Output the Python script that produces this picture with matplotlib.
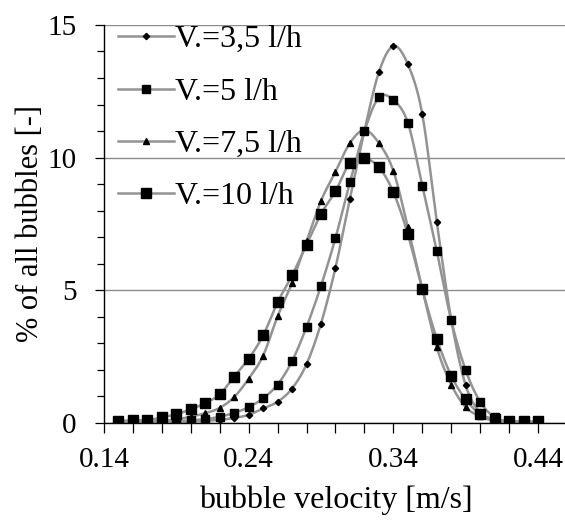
import numpy as np
import matplotlib
matplotlib.use("Agg")
import matplotlib.pyplot as plt
from matplotlib.ticker import MultipleLocator, FixedLocator

plt.rcParams['font.family'] = ['Liberation Serif', 'DejaVu Serif']

# bubble velocity classes [m/s]
velocity = [0.15, 0.16, 0.17, 0.18, 0.19, 0.20, 0.21, 0.22, 0.23, 0.24,
            0.25, 0.26, 0.27, 0.28, 0.29, 0.30, 0.31, 0.32, 0.33, 0.34,
            0.35, 0.36, 0.37, 0.38, 0.39, 0.40, 0.41, 0.42, 0.43, 0.44]

# share of all bubbles [%] for each gas flow rate
share_3_5 = [0.01, 0.01, 0.02, 0.02, 0.03, 0.05, 0.08, 0.12, 0.19, 0.31,
             0.55, 0.80, 1.30, 2.22, 3.75, 5.85, 8.46, 11.00, 13.22, 14.20,
             13.52, 11.64, 7.58, 3.90, 1.42, 0.40, 0.10, 0.03, 0.01, 0.01]
share_5 = [0.01, 0.02, 0.03, 0.04, 0.06, 0.10, 0.14, 0.24, 0.38, 0.60,
           0.93, 1.45, 2.33, 3.62, 5.17, 6.97, 9.07, 11.00, 12.27, 12.17,
           11.32, 8.95, 6.48, 3.87, 1.99, 0.80, 0.22, 0.05, 0.02, 0.01]
share_7_5 = [0.02, 0.03, 0.05, 0.08, 0.13, 0.24, 0.37, 0.57, 0.98, 1.67,
             2.54, 4.02, 5.28, 6.85, 8.37, 9.47, 10.55, 11.04, 10.55, 9.50,
             7.38, 5.05, 2.85, 1.45, 0.60, 0.25, 0.08, 0.03, 0.02, 0.01]
share_10 = [0.07, 0.11, 0.11, 0.21, 0.33, 0.52, 0.75, 1.08, 1.75, 2.42,
            3.30, 4.55, 5.56, 6.72, 7.88, 8.73, 9.80, 9.97, 9.64, 8.70,
            7.12, 5.04, 3.18, 1.78, 0.89, 0.34, 0.15, 0.08, 0.07, 0.06]

labels = ["V.=3,5 l/h", "V.=5 l/h", "V.=7,5 l/h", "V.=10 l/h"]

x_ticks = [0.14, 0.24, 0.34, 0.44]
y_ticks = [0, 5, 10, 15]


def smooth(x, y, n=24):
    """Cubic Bezier smoothing through every point (Catmull-Rom style)."""
    p = np.column_stack([x, y]).astype(float)
    ext = np.vstack([p[0], p, p[-1]])
    t = np.linspace(0, 1, n, endpoint=False)[:, None]
    out = []
    for i in range(len(p) - 1):
        p0, p1, p2, p3 = ext[i], ext[i + 1], ext[i + 2], ext[i + 3]
        c1 = p1 + (p2 - p0) / 6.0
        c2 = p2 - (p3 - p1) / 6.0
        seg = ((1 - t) ** 3) * p1 + 3 * ((1 - t) ** 2) * t * c1 \
            + 3 * (1 - t) * t ** 2 * c2 + t ** 3 * p2
        out.append(seg)
    out.append(p[-1][None, :])
    out = np.vstack(out)
    return out[:, 0], out[:, 1]


fig = plt.figure(figsize=(5.65, 5.2), dpi=100)
ax = fig.add_axes([0.184, 0.1865, 0.8195, 0.7655])

line_col = "#939393"
styles = [
    (share_3_5, "D", 3.2),
    (share_5, "s", 5.2),
    (share_7_5, "^", 4.2),
    (share_10, "s", 7.2),
]

for (vals, mk, ms), lab in zip(styles, labels):
    xs, ys = smooth(velocity, vals)
    ax.plot(xs, ys, color=line_col, lw=1.8, zorder=2)
    ax.plot(velocity, vals, linestyle="none", marker=mk, ms=ms,
            color="black", zorder=3)
    # legend proxy
    ax.plot([], [], color=line_col, lw=1.8, marker=mk, ms=ms,
            markerfacecolor="black", markeredgecolor="black", label=lab)

ax.set_xlim(0.14, 0.46)
ax.set_ylim(0, 15)

ax.yaxis.set_major_locator(FixedLocator(y_ticks))
ax.yaxis.set_minor_locator(MultipleLocator(1))
ax.xaxis.set_major_locator(FixedLocator(x_ticks))
ax.xaxis.set_minor_locator(FixedLocator(np.arange(0.14, 0.461, 0.02)))
ax.set_xticklabels([f"{v:.2f}" for v in x_ticks])
ax.set_yticklabels([str(v) for v in y_ticks])

ax.grid(axis="y", which="major", color="#8c8c8c", lw=1.0)
ax.set_axisbelow(True)
for s in ("top", "right"):
    ax.spines[s].set_visible(False)
for s in ("left", "bottom"):
    ax.spines[s].set_color("black")
    ax.spines[s].set_linewidth(1.0)

ax.tick_params(axis="y", which="major", direction="out", length=6.7,
               width=0.9, labelsize=21, pad=13)
ax.tick_params(axis="y", which="minor", direction="out", length=4.8,
               width=0.9)
ax.tick_params(axis="x", which="both", direction="out", length=7,
               width=0.9, labelsize=21, pad=10)

ax.set_xlabel("bubble velocity [m/s]", fontsize=23, labelpad=9)
ax.set_ylabel("% of all bubbles [-]", fontsize=22, labelpad=2)

leg = ax.legend(loc="upper left", frameon=False, fontsize=23,
                handlelength=1.75, handletextpad=0.05, labelspacing=0.72,
                borderaxespad=0.0, borderpad=0.0,
                bbox_to_anchor=(0.03, 1.0))

fig.savefig("out.png", dpi=100)
